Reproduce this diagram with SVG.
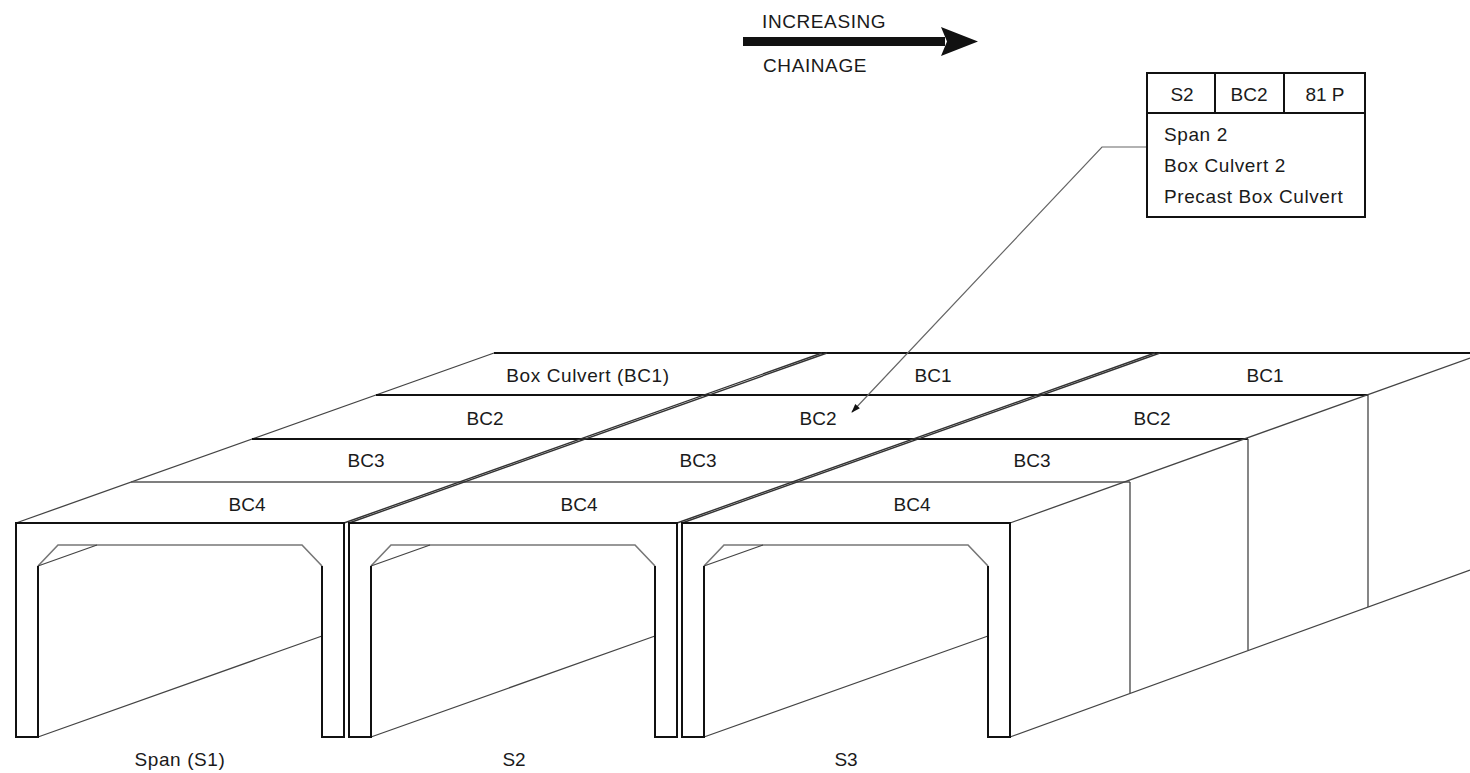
<svg xmlns="http://www.w3.org/2000/svg" width="1470" height="773" viewBox="0 0 1470 773">
  <style>
    text { font-family: "Liberation Sans", Arial, Helvetica, sans-serif; font-size: 19px; fill: #1a1a1a; }
    .mid { text-anchor: middle; }
    .wide { letter-spacing: 0.6px; }
    .outline { fill: none; stroke: #111; stroke-width: 2; stroke-linejoin: miter; }
    .inner { fill: none; stroke: #777; stroke-width: 1.6; }
    .recede { fill: none; stroke: #444; stroke-width: 1.3; }
    .deckline { fill: none; stroke: #111; stroke-width: 2; }
    .deckthin { fill: none; stroke: #555; stroke-width: 1.4; }
    .divider { fill: none; stroke: #333; stroke-width: 1.4; }
    .face { fill: none; stroke: #444; stroke-width: 1.3; }
    .box { fill: #fff; stroke: #111; stroke-width: 2; }
    .leader { fill: none; stroke: #666; stroke-width: 1.2; }
  </style>
  <defs>
    <marker id="tip" viewBox="0 0 10 10" refX="9" refY="5" markerWidth="8" markerHeight="8" markerUnits="userSpaceOnUse" orient="auto">
      <path d="M0,1 L10,5 L0,9 Z" fill="#111"/>
    </marker>
    <marker id="tipsmall" viewBox="0 0 10 10" refX="9" refY="5" markerWidth="12" markerHeight="9" markerUnits="userSpaceOnUse" orient="auto">
      <path d="M0,1.5 L10,5 L0,8.5 Z" fill="#111"/>
    </marker>
  </defs>
  <rect x="0" y="0" width="1470" height="773" fill="#fff"/>

  <g id="chainage-arrow">
    <rect x="743" y="37" width="202" height="9" fill="#111"/>
    <polygon points="941,27 978,41.5 941,56 947,41.5" fill="#111"/>
    <text x="762" y="28" class="wide">INCREASING</text>
    <text x="763" y="72" class="wide">CHAINAGE</text>
  </g>

  <g id="deck">
    <line class="recede" x1="16" y1="523" x2="494" y2="353"/>
    <line class="deckline" x1="494" y1="353" x2="1470" y2="353"/>
    <line class="deckline" x1="376" y1="395" x2="1368" y2="395"/>
    <line class="deckline" x1="252" y1="439" x2="1248" y2="439"/>
    <line class="deckthin" x1="131" y1="482" x2="1130" y2="482"/>
    <line class="divider" x1="344" y1="523" x2="822" y2="353"/>
    <line class="divider" x1="349" y1="523" x2="827" y2="353"/>
    <line class="divider" x1="677" y1="523" x2="1155" y2="353"/>
    <line class="divider" x1="682" y1="523" x2="1160" y2="353"/>
  </g>

  <g id="right-face">
    <line class="face" x1="1010" y1="523" x2="1470" y2="358"/>
    <line class="face" x1="1010" y1="737" x2="1470" y2="570"/>
    <line class="face" x1="1130" y1="482" x2="1130" y2="693"/>
    <line class="face" x1="1248" y1="439" x2="1248" y2="650"/>
    <line class="face" x1="1368" y1="395" x2="1368" y2="607"/>
  </g>

  <g id="span1">
    <path class="inner" d="M38,566 L58,545 H302 L322,566"/>
    <path class="recede" d="M38,566 L97,545 M38,737 L322,636"/>
    <path class="outline" d="M38,566 V737 H16 V523 H344 V737 H322 V566"/>
  </g>
  <g id="span2" transform="translate(333,0)">
    <path class="inner" d="M38,566 L58,545 H302 L322,566"/>
    <path class="recede" d="M38,566 L97,545 M38,737 L322,636"/>
    <path class="outline" d="M38,566 V737 H16 V523 H344 V737 H322 V566"/>
  </g>
  <g id="span3" transform="translate(666,0)">
    <path class="inner" d="M38,566 L58,545 H302 L322,566"/>
    <path class="recede" d="M38,566 L97,545 M38,737 L322,636"/>
    <path class="outline" d="M38,566 V737 H16 V523 H344 V737 H322 V566"/>
  </g>

  <g id="deck-labels">
    <text x="588" y="382" class="mid wide">Box Culvert (BC1)</text>
    <text x="933" y="382" class="mid">BC1</text>
    <text x="1265" y="382" class="mid">BC1</text>
    <text x="485" y="425" class="mid">BC2</text>
    <text x="818" y="425" class="mid">BC2</text>
    <text x="1152" y="425" class="mid">BC2</text>
    <text x="366" y="467" class="mid">BC3</text>
    <text x="698" y="467" class="mid">BC3</text>
    <text x="1032" y="467" class="mid">BC3</text>
    <text x="247" y="511" class="mid">BC4</text>
    <text x="579" y="511" class="mid">BC4</text>
    <text x="912" y="511" class="mid">BC4</text>
  </g>

  <g id="span-labels">
    <text x="180" y="766" class="mid wide">Span (S1)</text>
    <text x="514" y="766" class="mid">S2</text>
    <text x="846" y="766" class="mid">S3</text>
  </g>

  <g id="connectors">
    <polyline class="leader" points="1147,147 1102,147 852,412" marker-end="url(#tipsmall)"/>
  </g>

  <g id="callout">
    <rect class="box" x="1147" y="73" width="218" height="144"/>
    <line class="deckline" x1="1147" y1="113" x2="1365" y2="113"/>
    <line class="deckline" x1="1215" y1="73" x2="1215" y2="113" stroke-width="1.6"/>
    <line class="deckline" x1="1284" y1="73" x2="1284" y2="113" stroke-width="1.6"/>
    <text x="1182" y="101" class="mid">S2</text>
    <text x="1249" y="101" class="mid">BC2</text>
    <text x="1325" y="101" class="mid">81 P</text>
    <text x="1164" y="141" class="wide">Span 2</text>
    <text x="1164" y="172" class="wide">Box Culvert 2</text>
    <text x="1164" y="203" class="wide">Precast Box Culvert</text>
  </g>
</svg>
